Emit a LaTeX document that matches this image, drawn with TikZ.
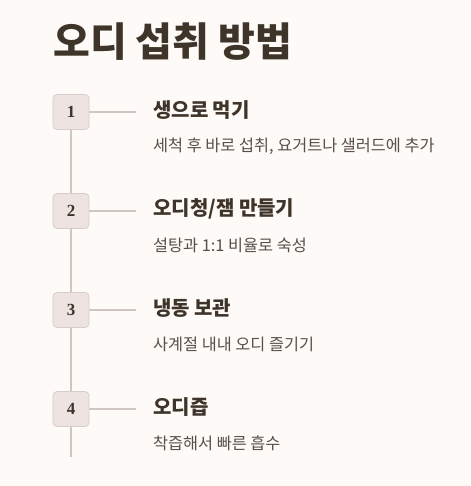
\documentclass[tikz,border=0pt]{standalone}
\usepackage{fontspec}
\newfontfamily\krfont{Noto Sans CJK KR}
\newfontfamily\numfont{Liberation Serif}
\definecolor{bgcol}{HTML}{FDFAF7}
\definecolor{inkcol}{HTML}{3F3429}
\definecolor{desccol}{HTML}{5A4F47}
\definecolor{boxcol}{HTML}{EDE4E1}
\definecolor{boxline}{HTML}{D9CDC9}
\definecolor{railcol}{HTML}{D0C5C1}

\def \odisteps {1/생으로 먹기/{세척 후 바로 섭취, 요거트나 샐러드에 추가},2/{오디청/잼 만들기}/설탕과 1:1 비율로 숙성,3/냉동 보관/사계절 내내 오디 즐기기,4/오디즙/착즙해서 빠른 흡수}

\begin{document}
\begin{tikzpicture}
   [x=1pt, y=-1pt,
   maintitle/.style={anchor=west, inner sep=0pt, text=inkcol, font=\krfont\bfseries\fontsize{40}{44}\selectfont},
   stephead/.style={anchor=west, inner sep=0pt, text=inkcol, font=\krfont\bfseries\fontsize{20}{24}\selectfont},
   stepdesc/.style={anchor=west, inner sep=0pt, text=desccol, font=\krfont\fontsize{16.3}{19}\selectfont},
   stepbox/.style={draw=boxline, fill=boxcol, rounded corners=4pt, line width=0.8pt, minimum width=36pt, minimum height=35pt, inner sep=0pt, text=inkcol, font=\numfont\bfseries\fontsize{17}{19}\selectfont},
   rail/.style={draw=railcol, line width=1.5pt}]
\useasboundingbox[fill=bgcol] (0,0) rectangle (470,486);

\node[maintitle] (title) at (53,42) {오디 섭취 방법};

\foreach \num / \head / \desc [evaluate=\num as \ypos using 112+99*(\num-1)] in \odisteps {
   \coordinate (tick\num) at (136,\ypos);
   \draw[rail] (71,\ypos) -- (tick\num);
   \node[stepbox] (box\num) at (71,\ypos) {\num};
   \node[stephead] (head\num) at (153,\ypos-2) {\head};
   \node[stepdesc] (desc\num) at (153,\ypos+34) {\desc};}

\foreach \a / \b in {1/2,2/3,3/4}
   \draw[rail] (box\a.south) -- (box\b.north);
\coordinate (railend) at (71,457);
\draw[rail] (box4.south) -- (railend);
\end{tikzpicture}
\end{document}
